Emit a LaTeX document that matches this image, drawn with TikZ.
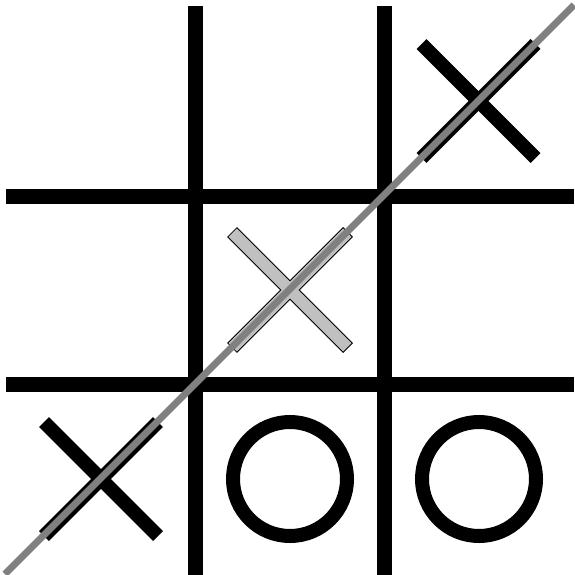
\documentclass[tikz,border=0pt]{standalone}
\definecolor{winGray}{RGB}{128,128,128}
\definecolor{lightX}{RGB}{192,192,192}
\begin{document}
\begin{tikzpicture}[x=1pt,y=-1pt,
  gridline/.style={line width=15pt, black},
  xarm/.style={line width=14pt, black},
  xarmfill/.style={line width=12pt, lightX, shorten <=1pt, shorten >=1pt},
  ring/.style={line width=14pt, black},
  winline/.style={line width=7pt, winGray}]
\useasboundingbox (0,0) rectangle (574,575);
\fill[white] (0,0) rectangle (574,575);
% grid
\coordinate (v1t) at (195.5,6.5); \coordinate (v1b) at (195.5,575);
\coordinate (v2t) at (384.5,6.5); \coordinate (v2b) at (384.5,575);
\coordinate (h1l) at (6,196); \coordinate (h1r) at (574,196);
\coordinate (h2l) at (6,384.5); \coordinate (h2r) at (574,384.5);
\draw[gridline] (v1t) -- (v1b);
\draw[gridline] (v2t) -- (v2b);
\draw[gridline] (h1l) -- (h1r);
\draw[gridline] (h2l) -- (h2r);
% X top right
\coordinate (a1) at (421.5,44); \coordinate (a2) at (535.5,158);
\coordinate (a3) at (421.5,158); \coordinate (a4) at (535.5,44);
\draw[xarm] (a1) -- (a2);
\draw[xarm] (a3) -- (a4);
% X bottom left
\coordinate (b1) at (44,422); \coordinate (b2) at (158,536);
\coordinate (b3) at (44,536); \coordinate (b4) at (158,422);
\draw[xarm] (b1) -- (b2);
\draw[xarm] (b3) -- (b4);
% X middle (grey)
\coordinate (c1) at (232,232); \coordinate (c2) at (348,348);
\coordinate (c3) at (232,348); \coordinate (c4) at (348,232);
\draw[xarm] (c1) -- (c2);
\draw[xarm] (c3) -- (c4);
\draw[xarmfill] (c1) -- (c2);
\draw[xarmfill] (c3) -- (c4);
% O's
\coordinate (o1) at (290,479); \coordinate (o2) at (479,479);
\draw[ring] (o1) circle[radius=57];
\draw[ring] (o2) circle[radius=57];
% winning line
\coordinate (w1) at (5,574); \coordinate (w2) at (574,5);
\draw[winline] (w1) -- (w2);
\end{tikzpicture}
\end{document}
